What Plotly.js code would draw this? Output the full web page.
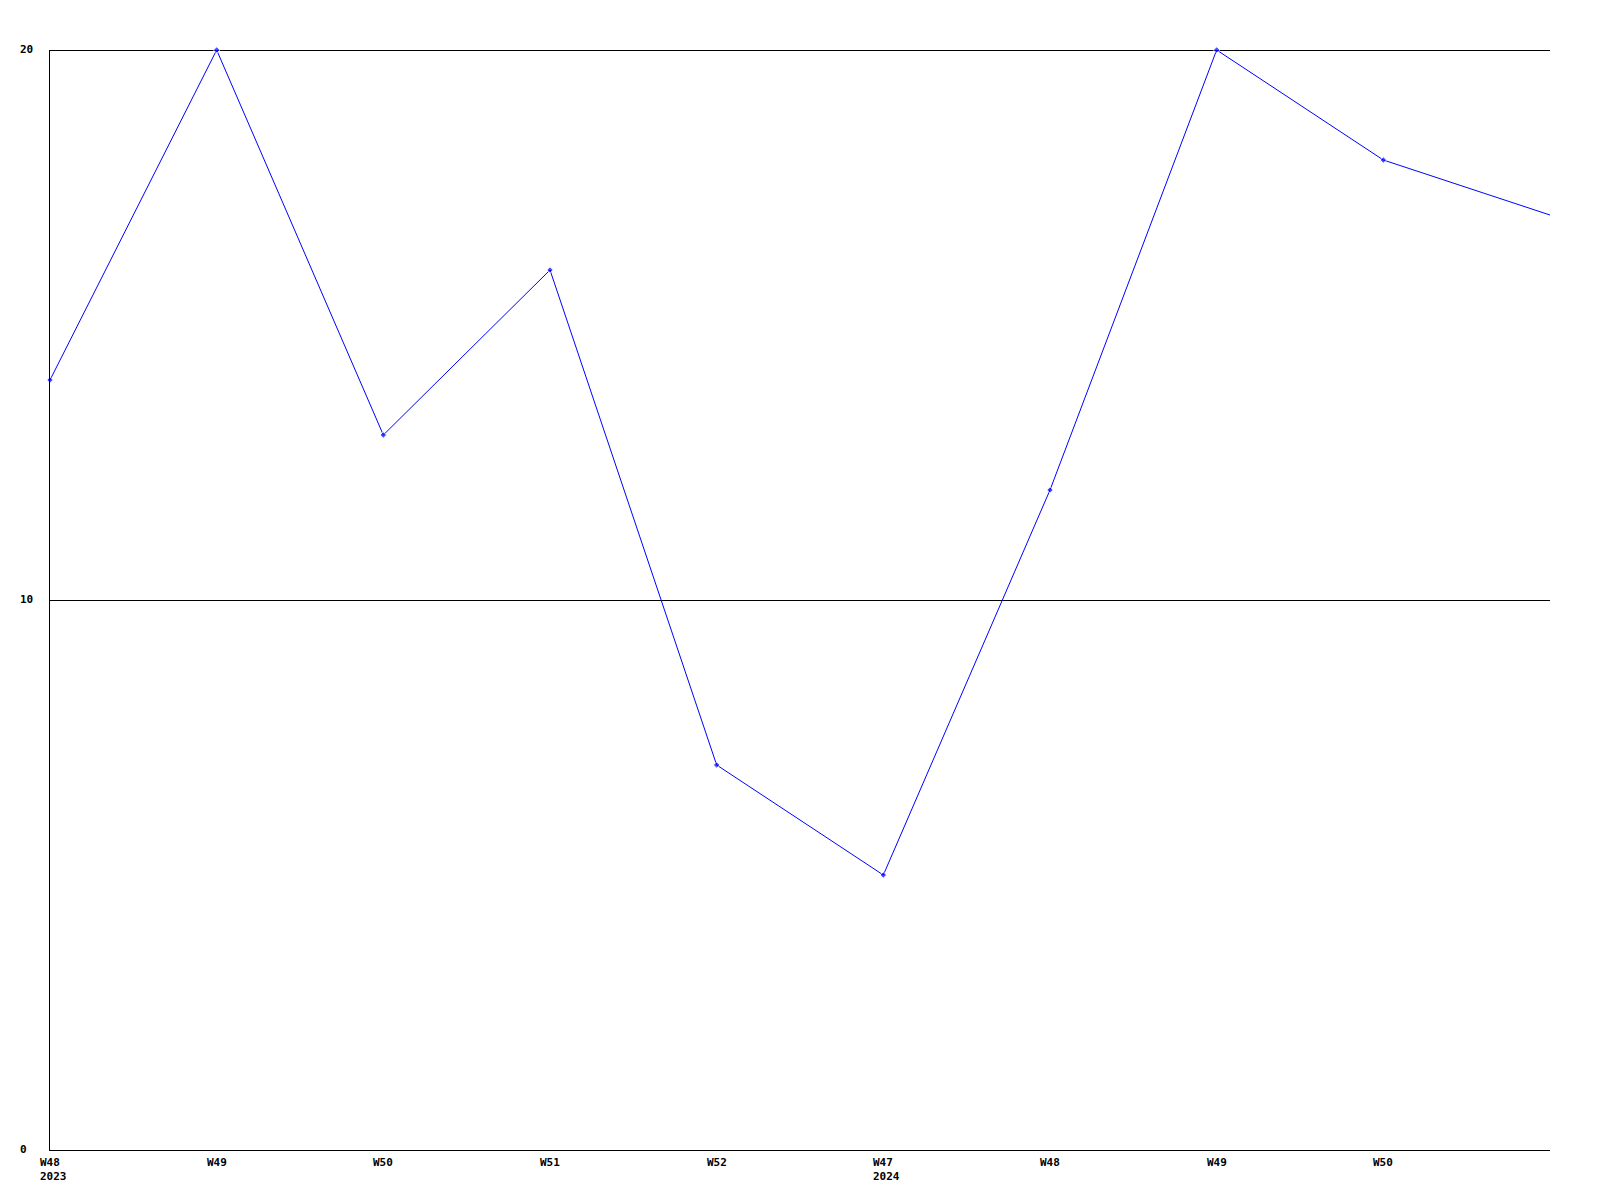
<!DOCTYPE html>
<html>
<head>
<meta charset="utf-8">
<script src="https://cdn.plot.ly/plotly-3.0.1.min.js"></script>
<style>html,body{margin:0;padding:0;background:#fff;}#chart{width:1600px;height:1200px;}</style>
</head>
<body>
<div id="chart"></div>
<script>
// Data
const weekIndex = [0, 1, 2, 3, 4, 5, 6, 7, 8, 9];
const weekLabels = ["W48<br>2023", "W49", "W50", "W51", "W52", "W47<br>2024", "W48", "W49", "W50", ""];
const values = [14, 20, 13, 16, 7, 5, 12, 20, 18, 17];
const yTickVals = [0, 10, 20];
const yTickText = ["0", "10", "20"];

const labelFont = {family: "DejaVu Sans Mono, monospace", size: 11, color: "#000000", weight: "bold"};

const annotations = [];
weekIndex.forEach((x, i) => {
  if (!weekLabels[i]) return;
  annotations.push({
    x: x, xref: "x", y: 0, yref: "paper",
    text: "<b>" + weekLabels[i] + "</b>", showarrow: false,
    xanchor: "left", yanchor: "top", align: "left",
    xshift: -11, yshift: -5, font: labelFont, borderpad: 0
  });
});
yTickVals.forEach((v, i) => {
  annotations.push({
    x: 0, xref: "paper", y: v, yref: "y",
    text: "<b>" + yTickText[i] + "</b>", showarrow: false,
    xanchor: "left", yanchor: "middle", align: "left",
    xshift: -31, yshift: 1, font: labelFont, borderpad: 0
  });
});

// horizontal rules at every y tick (the top one sits on the plot edge), pixel-snapped
const shapes = yTickVals.filter(v => v > 0).map(v => ({
  type: "line", xref: "paper", x0: 0, x1: 1,
  yref: "y", ysizemode: "pixel", yanchor: v, y0: -0.5, y1: -0.5,
  line: {color: "#000000", width: 1}, layer: "below"
}));

const lastIdx = weekIndex.length - 1;
const trace = {
  x: weekIndex, y: values, type: "scatter", mode: "lines+markers",
  line: {color: "#0000ff", width: 1},
  marker: {color: "#0000ff", size: weekIndex.map(i => i === lastIdx ? 0 : 5), symbol: "diamond"},
  cliponaxis: false, hoverinfo: "none"
};

const layout = {
  width: 1600, height: 1200,
  margin: {l: 50, r: 50, t: 50, b: 50, pad: 0},
  paper_bgcolor: "#ffffff", plot_bgcolor: "#ffffff",
  showlegend: false,
  xaxis: {range: [0, 9], showgrid: false, zeroline: false, showline: true, linecolor: "#000000", linewidth: 1, showticklabels: false, ticks: "", fixedrange: true},
  yaxis: {range: [0, 20], tickvals: yTickVals, showgrid: false, zeroline: false, showline: true, linecolor: "#000000", linewidth: 1, showticklabels: false, ticks: "", fixedrange: true},
  shapes: shapes,
  annotations: annotations
};

Plotly.newPlot("chart", [trace], layout, {staticPlot: true, displayModeBar: false});
</script>
</body>
</html>
